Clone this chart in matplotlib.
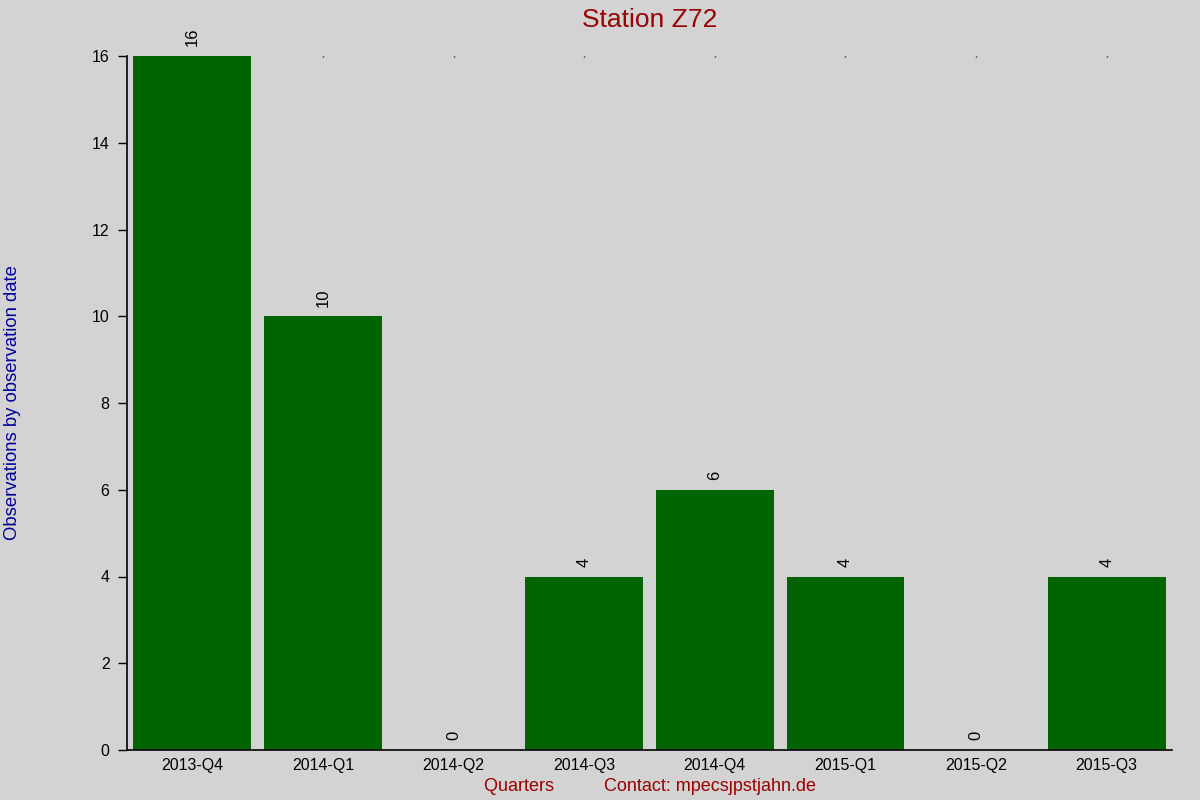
import numpy as np
import matplotlib.pyplot as plt

# Datos del gráfico
quarters = ['2013-Q4', '2014-Q1', '2014-Q2', '2014-Q3', '2014-Q4', '2015-Q1', '2015-Q2', '2015-Q3']
observations = [16, 10, 0, 4, 6, 4, 0, 4]
y_ticks = [0, 2, 4, 6, 8, 10, 12, 14, 16]

plt.rcParams['font.family'] = ['Liberation Sans', 'DejaVu Sans']

fondo = '#d3d3d3'
fig, ax = plt.subplots(figsize=(12, 8), dpi=100)
fig.patch.set_facecolor(fondo)
ax.set_facecolor(fondo)
fig.subplots_adjust(left=0.1058, right=0.9767, top=0.93, bottom=0.0625)
ax.set_axisbelow(True)

x = np.arange(len(quarters))
barras = ax.bar(x, observations, width=0.9, color='#006400')

# Etiquetas de valor rotadas sobre cada barra
for xi, valor in zip(x, observations):
    ax.annotate(str(valor), xy=(xi, valor), xytext=(0, 7), textcoords='offset points',
                ha='center', va='bottom', rotation=90, fontsize=12, color='black')

ax.set_xlim(-0.5, len(quarters) - 0.5)
ax.set_ylim(0, 16)
ax.set_xticks(x)
ax.set_xticklabels(quarters, fontsize=11.5)
ax.set_yticks(y_ticks)
ax.tick_params(axis='y', labelsize=11.5, length=6.5, width=1, pad=6)
ax.tick_params(axis='x', bottom=False, top=True, length=1, width=1, direction='in', pad=6)

for lado in ['top', 'right']:
    ax.spines[lado].set_visible(False)
for lado in ['left', 'bottom']:
    ax.spines[lado].set_linewidth(1.2)

ax.set_title('Station Z72', fontsize=19, color='#990000', pad=21)
ax.set_xlabel('Quarters          Contact: mpecs\u0237pstjahn.de', fontsize=13,
              color='#990000', va='center')
ax.xaxis.set_label_coords(0.5, -0.052)
ax.set_ylabel('Observations by observation date', fontsize=13.3, color='#000099',
              va='center', ha='center')
ax.yaxis.set_label_coords(-0.110, 0.5)

plt.savefig('out.png', facecolor=fondo)
